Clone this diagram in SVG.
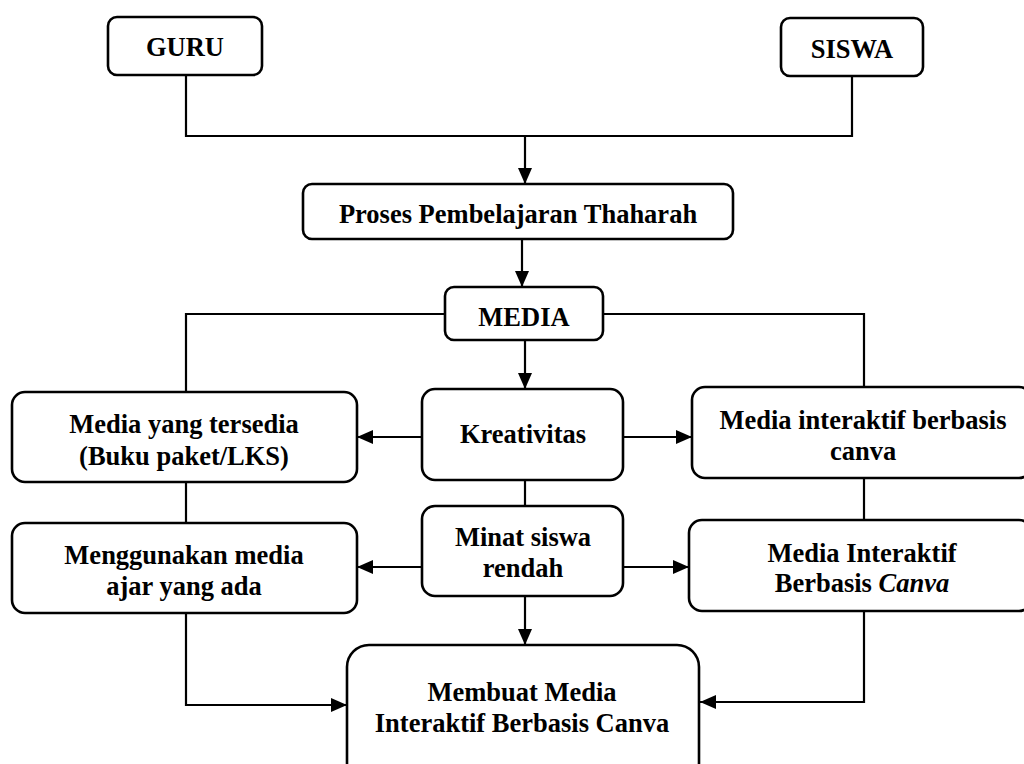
<svg xmlns="http://www.w3.org/2000/svg" width="1024" height="764" viewBox="0 0 1024 764">
<style>
.box{fill:#fff;stroke:#000;stroke-width:2.6}
.ln{fill:none;stroke:#000;stroke-width:2.2}
text{font-family:"Liberation Serif","Times New Roman",serif;font-weight:bold;font-size:26.5px;text-anchor:middle;fill:#000}
</style>
<defs>
<marker id="ah" viewBox="0 0 16 14" refX="16" refY="7" markerWidth="16" markerHeight="14" markerUnits="userSpaceOnUse" orient="auto">
<path d="M0,0 L16,7 L0,14 Z" fill="#000"/>
</marker>
<clipPath id="c1"><rect x="12" y="392" width="345" height="80"/></clipPath>
<clipPath id="c2"><rect x="12" y="523" width="345" height="78"/></clipPath>
<clipPath id="c3"><rect x="303" y="184" width="430" height="45"/></clipPath>
</defs>
<g id="connectors">
<path class="ln" d="M186,76 V136 H852 V77"/>
<path class="ln" d="M525,136 V184" marker-end="url(#ah)"/>
<path class="ln" d="M522,239 V287" marker-end="url(#ah)"/>
<path class="ln" d="M445,314 H186 V392"/>
<path class="ln" d="M603,314 H864 V387"/>
<path class="ln" d="M525,340 V389" marker-end="url(#ah)"/>
<path class="ln" d="M422,437 H357" marker-end="url(#ah)"/>
<path class="ln" d="M623,437 H692" marker-end="url(#ah)"/>
<path class="ln" d="M186,482 V523"/>
<path class="ln" d="M525,480 V506"/>
<path class="ln" d="M864,478 V520"/>
<path class="ln" d="M422,567 H357" marker-end="url(#ah)"/>
<path class="ln" d="M623,567 H689" marker-end="url(#ah)"/>
<path class="ln" d="M525,596 V645" marker-end="url(#ah)"/>
<path class="ln" d="M186,613 V705 H347" marker-end="url(#ah)"/>
<path class="ln" d="M864,611 V702 H700" marker-end="url(#ah)"/>
</g>
<g id="guru"><rect class="box" x="108" y="17" width="154" height="58" rx="9"/><text x="185" y="56">GURU</text></g>
<g id="siswa"><rect class="box" x="781" y="18" width="142" height="58" rx="9"/><text x="852" y="58">SISWA</text></g>
<g id="proses"><rect class="box" x="303" y="184" width="430" height="55" rx="9"/><text x="518" y="223" clip-path="url(#c3)">Proses Pembelajaran Thaharah</text></g>
<g id="media"><rect class="box" x="445" y="287" width="158" height="53" rx="9"/><text x="524" y="326">MEDIA</text></g>
<g id="tersedia"><rect class="box" x="12" y="392" width="345" height="90" rx="13"/><g clip-path="url(#c1)"><text x="184" y="433">Media yang tersedia</text><text x="184" y="465">(Buku paket/LKS)</text></g></g>
<g id="kreativitas"><rect class="box" x="422" y="389" width="201" height="91" rx="13"/><text x="523" y="443">Kreativitas</text></g>
<g id="interaktif1"><rect class="box" x="692" y="387" width="340" height="91" rx="13"/><text x="863" y="429">Media interaktif berbasis</text><text x="863" y="460">canva</text></g>
<g id="menggunakan"><rect class="box" x="12" y="523" width="345" height="90" rx="13"/><g clip-path="url(#c2)"><text x="184" y="564">Menggunakan media</text><text x="184" y="595">ajar yang ada</text></g></g>
<g id="minat"><rect class="box" x="422" y="506" width="201" height="90" rx="13"/><text x="523" y="546">Minat siswa</text><text x="523" y="577">rendah</text></g>
<g id="interaktif2"><rect class="box" x="689" y="520" width="343" height="91" rx="13"/><text x="862" y="562">Media Interaktif</text><text x="862" y="592">Berbasis <tspan font-style="italic">Canva</tspan></text></g>
<g id="membuat"><rect class="box" x="347" y="645" width="352" height="140" rx="22"/><text x="522" y="701">Membuat Media</text><text x="522" y="732">Interaktif Berbasis Canva</text></g>
</svg>
